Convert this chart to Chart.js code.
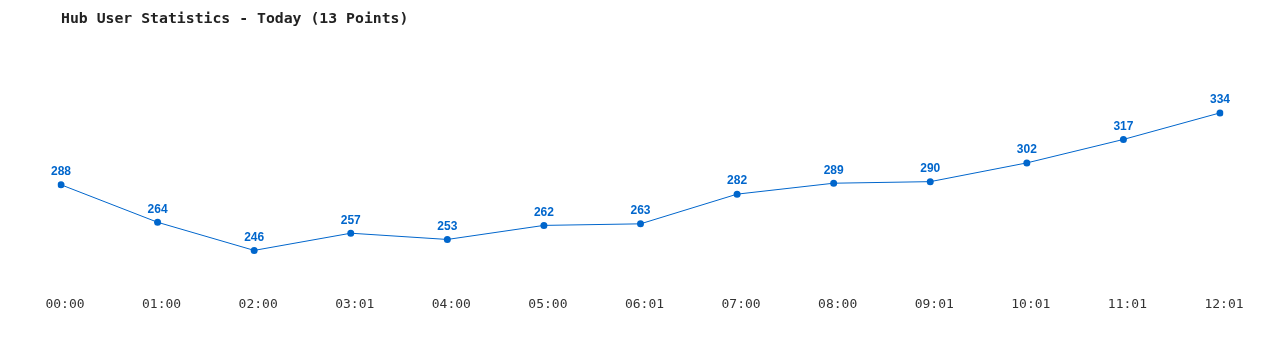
<!DOCTYPE html>
<html>
<head>
<meta charset="utf-8">
<script src="https://cdn.jsdelivr.net/npm/chart.js@4"></script>
<style>
html,body{margin:0;padding:0;background:#fff;}
#wrap{width:1280px;height:350px;position:relative;}
</style>
</head>
<body>
<div id="wrap"><canvas id="c" width="1280" height="350"></canvas></div>
<script>
const labels = ["00:00","01:00","02:00","03:01","04:00","05:00","06:01","07:00","08:00","09:01","10:01","11:01","12:01"];
const users = [288,264,246,257,253,262,263,282,289,290,302,317,334];
const titleText = "Hub User Statistics - Today (13 Points)";

const lineColor = "#0066cc";

const valueLabels = {
  id: "valueLabels",
  afterDatasetsDraw(chart) {
    const ctx = chart.ctx;
    const meta = chart.getDatasetMeta(0);
    ctx.save();
    ctx.font = "bold 12px 'Liberation Sans'";
    ctx.fillStyle = lineColor;
    ctx.textAlign = "center";
    ctx.textBaseline = "middle";
    meta.data.forEach((pt, i) => {
      ctx.fillText(String(users[i]), pt.x, pt.y - 13);
    });
    ctx.restore();
  }
};

new Chart(document.getElementById("c"), {
  type: "line",
  data: {
    labels: labels,
    datasets: [{
      data: users,
      borderColor: lineColor,
      backgroundColor: lineColor,
      borderWidth: 1,
      pointRadius: 3.5,
      pointHoverRadius: 3.5,
      pointBackgroundColor: lineColor,
      pointBorderColor: lineColor,
      pointBorderWidth: 0,
      tension: 0,
      fill: false
    }]
  },
  options: {
    responsive: false,
    animation: false,
    events: [],
    layout: { padding: { left: 61, right: 60, top: 0, bottom: 17 } },
    plugins: {
      legend: { display: false },
      tooltip: { enabled: false },
      title: {
        display: true,
        text: titleText,
        align: "start",
        color: "#222",
        font: { family: "'DejaVu Sans Mono'", size: 14.8, weight: "bold", lineHeight: 1.2 },
        padding: { top: 10, bottom: 44.5 }
      }
    },
    scales: {
      x: {
        offset: false,
        grid: { display: false, drawTicks: false },
        border: { display: false },
        ticks: {
          color: "#333",
          padding: 21,
          labelOffset: 4,
          maxRotation: 0,
          autoSkip: false,
          font: { family: "'DejaVu Sans Mono'", size: 13, lineHeight: 1.2 }
        }
      },
      y: {
        display: false,
        min: 230,
        max: 360
      }
    }
  },
  plugins: [valueLabels]
});
</script>
</body>
</html>
